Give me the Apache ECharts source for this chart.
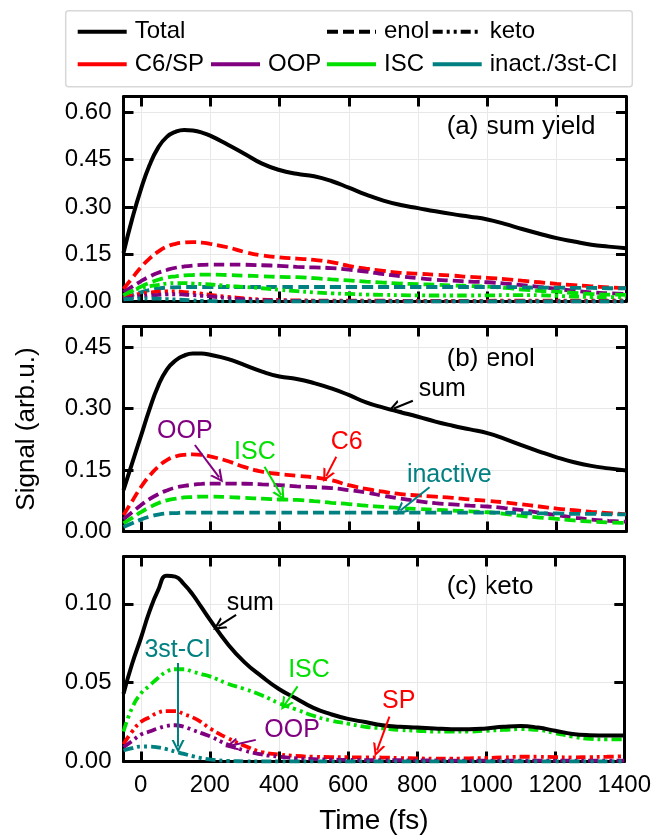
<!DOCTYPE html>
<html>
<head>
<meta charset="utf-8">
<script src="https://cdn.jsdelivr.net/npm/echarts@6/dist/echarts.min.js"></script>
<style>
html,body{margin:0;padding:0;background:#fff;}
#chart{width:654px;height:838px;}
</style>
</head>
<body>
<div id="chart"></div>
<script>
// ---------- data ----------
const time = [-50, -25, 0, 25, 50, 75, 100, 125, 150, 175, 200, 250, 300, 350, 400, 450, 500, 550, 600, 650, 700, 750, 800, 850, 900, 950, 1000, 1050, 1100, 1150, 1200, 1250, 1300, 1350, 1400];

// (a) total yield
const totalAll = [0.154, 0.262, 0.355, 0.432, 0.488, 0.522, 0.538, 0.544, 0.542, 0.536, 0.526, 0.498, 0.468, 0.437, 0.417, 0.405, 0.397, 0.382, 0.361, 0.339, 0.320, 0.306, 0.296, 0.286, 0.277, 0.269, 0.260, 0.246, 0.230, 0.215, 0.201, 0.190, 0.180, 0.174, 0.169];

// (b) enol
const enolSum   = [0.101, 0.167, 0.232, 0.298, 0.355, 0.395, 0.417, 0.429, 0.434, 0.434, 0.431, 0.421, 0.406, 0.390, 0.378, 0.372, 0.362, 0.349, 0.333, 0.315, 0.302, 0.291, 0.280, 0.268, 0.258, 0.249, 0.240, 0.226, 0.210, 0.195, 0.181, 0.169, 0.160, 0.154, 0.149];
const enolC6    = [0.040, 0.074, 0.108, 0.136, 0.158, 0.174, 0.183, 0.187, 0.188, 0.187, 0.183, 0.172, 0.157, 0.146, 0.140, 0.136, 0.132, 0.125, 0.113, 0.104, 0.097, 0.091, 0.088, 0.085, 0.082, 0.078, 0.075, 0.071, 0.066, 0.061, 0.056, 0.052, 0.048, 0.045, 0.042];
const enolOOP   = [0.030, 0.047, 0.064, 0.079, 0.091, 0.100, 0.107, 0.111, 0.114, 0.116, 0.117, 0.117, 0.1165, 0.115, 0.113, 0.110, 0.108, 0.106, 0.101, 0.095, 0.087, 0.080, 0.074, 0.069, 0.066, 0.063, 0.061, 0.057, 0.052, 0.046, 0.040, 0.034, 0.029, 0.026, 0.024];
const enolISC   = [0.020, 0.033, 0.047, 0.059, 0.069, 0.076, 0.080, 0.083, 0.084, 0.085, 0.085, 0.084, 0.082, 0.080, 0.078, 0.077, 0.074, 0.070, 0.067, 0.063, 0.060, 0.057, 0.055, 0.053, 0.051, 0.049, 0.047, 0.043, 0.038, 0.034, 0.031, 0.027, 0.024, 0.022, 0.021];
const enolInact = [0.011, 0.020, 0.029, 0.036, 0.041, 0.044, 0.045, 0.046, 0.046, 0.046, 0.046, 0.046, 0.046, 0.046, 0.046, 0.046, 0.046, 0.046, 0.046, 0.046, 0.046, 0.046, 0.046, 0.046, 0.046, 0.046, 0.046, 0.046, 0.045, 0.044, 0.044, 0.043, 0.043, 0.042, 0.042];

// (c) keto
const ketoSum = [0.043, 0.062, 0.078, 0.095, 0.1085, 0.1178, 0.1172, 0.1125, 0.106, 0.098, 0.090, 0.075, 0.063, 0.054, 0.046, 0.040, 0.034, 0.030, 0.027, 0.025, 0.023, 0.022, 0.0215, 0.021, 0.0205, 0.0205, 0.021, 0.022, 0.0225, 0.0215, 0.0195, 0.0175, 0.0167, 0.0165, 0.0165];
const ketoSP  = [0.011, 0.019, 0.025, 0.028, 0.031, 0.032, 0.032, 0.030, 0.028, 0.025, 0.021, 0.015, 0.010, 0.006, 0.0045, 0.0035, 0.003, 0.0028, 0.0027, 0.0026, 0.0025, 0.0022, 0.002, 0.0018, 0.0018, 0.002, 0.0022, 0.0026, 0.003, 0.003, 0.0028, 0.0026, 0.0028, 0.003, 0.0033];
const ketoOOP = [0.009, 0.013, 0.017, 0.019, 0.021, 0.0225, 0.023, 0.022, 0.020, 0.018, 0.016, 0.011, 0.007, 0.0045, 0.003, 0.002, 0.0015, 0.0012, 0.001, 0.0009, 0.0008, 0.0008, 0.0007, 0.0007, 0.0006, 0.0006, 0.0006, 0.0006, 0.0005, 0.0005, 0.0005, 0.0005, 0.0005, 0.0005, 0.0005];
const ketoISC = [0.019, 0.034, 0.043, 0.048, 0.053, 0.057, 0.0585, 0.0585, 0.057, 0.0555, 0.054, 0.0495, 0.046, 0.042, 0.037, 0.033, 0.029, 0.026, 0.024, 0.022, 0.021, 0.020, 0.0195, 0.019, 0.019, 0.019, 0.0195, 0.020, 0.0205, 0.020, 0.018, 0.0158, 0.0143, 0.014, 0.014];
const ketoCI  = [0.007, 0.0085, 0.0095, 0.0095, 0.009, 0.0078, 0.0063, 0.0048, 0.0034, 0.0022, 0.0013, 0.0004, 0.0001, 0, 0, 0, 0, 0, 0, 0, 0, 0, 0, 0, 0, 0, 0, 0, 0, 0, 0, 0, 0, 0, 0];

// ticks
const xTicks  = [0, 200, 400, 600, 800, 1000, 1200, 1400];
const yTicksA = [0, 0.15, 0.30, 0.45, 0.60];
const yTicksB = [0, 0.15, 0.30, 0.45];
const yTicksC = [0, 0.05, 0.10];

// legend entries
const legendNames = ['Total', 'enol', 'keto', 'C6/SP', 'OOP', 'ISC', 'inact./3st-CI'];

// ---------- styling ----------
const FONT = 'Liberation Sans, Arial, sans-serif';
const C = { black: '#000000', red: '#ff0000', purple: '#800080', green: '#00e000', teal: '#008080' };
const DASH = [11, 5];
const DDOT = [10, 4, 3, 4, 3, 4];
const LW = 3.8;
const ARROW = 'path://M0,10 L5,0 L10,10 L8.2,10 L5,3.6 L1.8,10 Z';

const gridTops = [96.5, 326.5, 556.5];
const gridH = 205;
const yMax = [0.65, 0.50, 0.13];
const yTicks = [yTicksA, yTicksB, yTicksC];

function pairs(arr) { return time.map((t, i) => [t, arr[i]]); }

const grids = gridTops.map(t => ({ left: 123.5, right: 28, top: t, height: gridH, containLabel: false }));

const xAxes = [];
const yAxes = [];
for (let p = 0; p < 3; p++) {
  const common = {
    type: 'value', gridIndex: p, min: -50, max: 1400,
    axisLine: { show: true, onZero: false, lineStyle: { color: '#000', width: 3 } },
    axisTick: { show: true, inside: true, length: 10, customValues: xTicks, lineStyle: { color: '#000', width: 3 } }
  };
  xAxes.push(Object.assign({}, common, {
    position: 'bottom',
    axisLabel: { show: p === 2, customValues: xTicks, fontSize: 24, fontFamily: FONT, color: '#000', margin: 12,
      formatter: v => String(v) },
    splitLine: { show: true, lineStyle: { color: '#e8e8e8', width: 1 } },
    name: p === 2 ? 'Time (fs)' : '', nameLocation: 'middle', nameGap: 46,
    nameTextStyle: { fontSize: 28, fontFamily: FONT, color: '#000' }
  }));
  xAxes.push(Object.assign({}, common, {
    position: 'top',
    axisLabel: { show: false, customValues: xTicks },
    splitLine: { show: false }
  }));
  const ycommon = {
    type: 'value', gridIndex: p, min: 0, max: yMax[p],
    axisLine: { show: true, onZero: false, lineStyle: { color: '#000', width: 3 } },
    axisTick: { show: true, inside: true, length: 10, customValues: yTicks[p], lineStyle: { color: '#000', width: 3 } }
  };
  yAxes.push(Object.assign({}, ycommon, {
    position: 'left',
    axisLabel: { show: true, customValues: yTicks[p], fontSize: 24, fontFamily: FONT, color: '#000', margin: 12,
      formatter: v => v.toFixed(2) },
    splitLine: { show: true, lineStyle: { color: '#e8e8e8', width: 1 } },
    name: p === 1 ? 'Signal (arb.u.)' : '', nameLocation: 'middle', nameGap: 84,
    nameTextStyle: { fontSize: 26, fontFamily: FONT, color: '#000' }
  }));
  yAxes.push(Object.assign({}, ycommon, {
    position: 'right',
    axisLabel: { show: false, customValues: yTicks[p] },
    splitLine: { show: false }
  }));
}

function line(name, data, p, color, type, width, extra) {
  return Object.assign({
    name: name, type: 'line', data: pairs(data),
    xAxisIndex: 2 * p, yAxisIndex: 2 * p,
    symbol: 'none', smooth: 0.5,
    lineStyle: { color: color, width: width || LW, type: type || 'solid', cap: 'butt' },
    itemStyle: { color: color },
    silent: true, animation: false
  }, extra || {});
}

function textMark(txt, x, y, color) {
  return { coord: [x, y], name: txt, symbol: 'circle', symbolSize: 1,
    itemStyle: { color: 'rgba(0,0,0,0)' },
    label: { show: true, position: 'inside', formatter: txt, color: color, fontSize: 25, fontFamily: FONT } };
}
function arrowMark(x1, y1, x2, y2, color) {
  return [{ coord: [x1, y1], lineStyle: { color: color, width: 2, type: 'solid' }, itemStyle: { color: color } },
          { coord: [x2, y2] }];
}
function annot(texts, arrows) {
  return {
    markPoint: { silent: true, animation: false, data: texts },
    markLine: { silent: true, animation: false, symbol: ['none', ARROW], symbolSize: 13,
      label: { show: false }, data: arrows }
  };
}

const series = [
  // panel (a)
  line('enol C6 a', enolC6, 0, C.red, DASH),
  line('enol OOP a', enolOOP, 0, C.purple, DASH),
  line('enol ISC a', enolISC, 0, C.green, DASH),
  line('enol inact a', enolInact, 0, C.teal, DASH),
  line('keto SP a', ketoSP, 0, C.red, DDOT),
  line('keto OOP a', ketoOOP, 0, C.purple, DDOT),
  line('keto ISC a', ketoISC, 0, C.green, DDOT),
  line('keto CI a', ketoCI, 0, C.teal, DDOT),
  line('total a', totalAll, 0, C.black, 'solid', 4),
  // panel (b)
  line('enol C6 b', enolC6, 1, C.red, DASH),
  line('enol OOP b', enolOOP, 1, C.purple, DASH),
  line('enol ISC b', enolISC, 1, C.green, DASH),
  line('enol inact b', enolInact, 1, C.teal, DASH),
  line('enol sum b', enolSum, 1, C.black, 'solid', 4, annot([
    textMark('sum', 870, 0.348, C.black),
    textMark('C6', 594, 0.2185, C.red),
    textMark('inactive', 890, 0.138, C.teal),
    textMark('OOP', 127, 0.245, C.purple),
    textMark('ISC', 329, 0.194, C.green)
  ], [
    arrowMark(785, 0.319, 730, 0.300, C.black),
    arrowMark(564, 0.1825, 535, 0.135, C.red),
    arrowMark(833, 0.108, 749, 0.051, C.teal),
    arrowMark(156, 0.211, 226, 0.132, C.purple),
    arrowMark(357, 0.158, 405, 0.089, C.green)
  ])),
  // panel (c)
  line('keto SP c', ketoSP, 2, C.red, DDOT),
  line('keto OOP c', ketoOOP, 2, C.purple, DDOT),
  line('keto ISC c', ketoISC, 2, C.green, DDOT),
  line('keto CI c', ketoCI, 2, C.teal, DDOT),
  line('keto sum c', ketoSum, 2, C.black, 'solid', 4, annot([
    textMark('sum', 317, 0.1004, C.black),
    textMark('3st-CI', 107, 0.0706, C.teal),
    textMark('ISC', 487, 0.058, C.green),
    textMark('SP', 747, 0.038, C.red),
    textMark('OOP', 438, 0.0197, C.purple)
  ], [
    arrowMark(276, 0.093, 225, 0.0858, C.black),
    arrowMark(108, 0.0625, 108, 0.0095, C.teal),
    arrowMark(454, 0.0476, 417, 0.0360, C.green),
    arrowMark(720, 0.0285, 684, 0.0070, C.red),
    arrowMark(333, 0.0137, 262, 0.0101, C.purple)
  ]))
];

// legend dummy series
const legendStyles = {
  'Total': [C.black, 'solid'], 'enol': [C.black, DASH], 'keto': [C.black, DDOT],
  'C6/SP': [C.red, 'solid'], 'OOP': [C.purple, 'solid'], 'ISC': [C.green, 'solid'], 'inact./3st-CI': [C.teal, 'solid']
};
legendNames.forEach(n => {
  series.push({ name: n, type: 'line', data: [], xAxisIndex: 0, yAxisIndex: 0, symbol: 'none',
    lineStyle: { color: legendStyles[n][0], width: 4, type: legendStyles[n][1], cap: 'butt' },
    itemStyle: { color: legendStyles[n][0] } });
});

const legendPos = {
  'Total': [75.7, 31.7], 'enol': [325, 31.7], 'keto': [430.7, 31.7],
  'C6/SP': [75.7, 64.3], 'OOP': [209, 64.3], 'ISC': [325, 64.3], 'inact./3st-CI': [430.7, 64.3]
};
const legends = legendNames.map(n => ({
  data: [n], left: legendPos[n][0], top: legendPos[n][1] - 12, padding: 0,
  itemWidth: 49, itemHeight: 24, selectedMode: false,
  itemStyle: { opacity: 0 },
  lineStyle: { width: 4, type: legendStyles[n][1], color: legendStyles[n][0], cap: 'butt' },
  textStyle: { fontSize: 24, fontFamily: FONT, color: '#000', padding: [0, 0, 0, 3], lineHeight: 24 }
}));

const option = {
  animation: false,
  backgroundColor: '#ffffff',
  grid: grids,
  xAxis: xAxes,
  yAxis: yAxes,
  legend: legends,
  series: series,
  graphic: [
    { type: 'rect', z: -1, silent: true, shape: { x: 65.7, y: 10.7, width: 566.6, height: 76, r: 3 },
      style: { fill: '#ffffff', stroke: '#d8d8d8', lineWidth: 1.5 } },
    { type: 'text', silent: true, x: 446.7, y: 127, style: { text: '(a) sum yield', fontSize: 26, fontFamily: FONT, fill: '#000', verticalAlign: 'middle' } },
    { type: 'text', silent: true, x: 446.7, y: 359, style: { text: '(b) enol', fontSize: 26, fontFamily: FONT, fill: '#000', verticalAlign: 'middle' } },
    { type: 'text', silent: true, x: 446.7, y: 587, style: { text: '(c) keto', fontSize: 26, fontFamily: FONT, fill: '#000', verticalAlign: 'middle' } }
  ]
};

const chart = echarts.init(document.getElementById('chart'), null, { renderer: 'canvas' });
chart.setOption(option);
</script>
</body>
</html>
